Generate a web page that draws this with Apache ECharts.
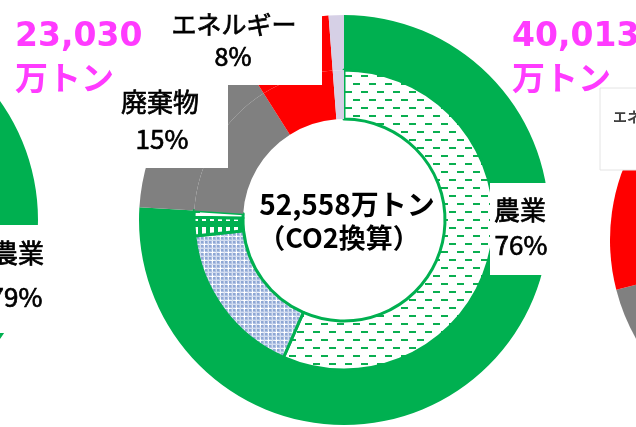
<!DOCTYPE html>
<html>
<head>
    <meta charset="utf-8">
    <title>温室効果ガス排出量</title>
    <script src="https://cdn.jsdelivr.net/npm/echarts@6/dist/echarts.min.js"></script>
    <style>
        html, body { margin: 0; padding: 0; background: #fff; }
        #main { width: 636px; height: 427px; }
    </style>
</head>
<body>
<div id="main"></div>
<script>
    // 外側リング（部門別の割合 %）
    var outerNames = ['農業', '廃棄物', 'エネルギー', 'その他'];
    var outerValues = [76, 15, 7.8, 1.2];
    // 内側リング（農業の内訳 + その他部門）
    var innerNames = ['農業A', '農業B', '農業C', '農業D', '廃棄物', 'エネルギー', 'その他'];
    var innerValues = [56.6, 16.7, 2.0, 0.7, 15, 7.8, 1.2];
    // 両隣のグラフ（見えている部分のみ）
    var leftNames = ['農業', 'その他'];
    var leftValues = [79, 21];
    var rightNames = ['農業', '廃棄物', 'エネルギー'];
    var rightValues = [40, 31, 29];
    // 合計（万トン）
    var totals = ['23,030', '52,558', '40,013'];

    var GREEN = '#00b050', GRAY = '#808080', RED = '#ff0000', LAV = '#d6d0e6', PINK = '#ff3bff';
    var JP = '"Noto Sans CJK JP", "DejaVu Sans", sans-serif';

    // 模様（canvas パターン）
    function makeTile(w, h, draw) {
        var c = document.createElement('canvas');
        c.width = w; c.height = h;
        draw(c.getContext('2d'));
        return { image: c, repeat: 'repeat' };
    }
    var dashPat = makeTile(16, 16, function (g) {
        g.fillStyle = '#fff'; g.fillRect(0, 0, 16, 16);
        g.fillStyle = '#0aae50';
        g.fillRect(1, 3, 7, 2);
        g.fillRect(9, 11, 7, 2);
    });
    var checkPat = makeTile(8, 8, function (g) {
        g.fillStyle = '#afc1e3'; g.fillRect(0, 0, 8, 8);
        g.fillStyle = '#8ea7d4'; g.fillRect(1, 1, 2, 2); g.fillRect(5, 5, 2, 2);
        g.fillRect(5, 1, 2, 2); g.fillRect(1, 5, 2, 2);
        g.fillStyle = '#eef2fa'; g.fillRect(0, 4, 8, 1); g.fillRect(4, 0, 1, 8);
        g.fillStyle = '#d3ddf0'; g.fillRect(0, 0, 8, 1); g.fillRect(0, 0, 1, 8);
        g.fillStyle = '#fff'; g.fillRect(3, 4, 3, 1); g.fillRect(4, 3, 1, 3);
    });
    var stripePat = makeTile(8, 14, function (g) {
        g.fillStyle = GREEN; g.fillRect(0, 0, 8, 14);
        g.fillStyle = '#fff'; g.fillRect(2, 3, 4, 8);
    });

    var outerColors = [GREEN, GRAY, RED, LAV];
    var innerColors = [dashPat, checkPat, stripePat, dashPat, GRAY, RED, LAV];

    var chart = echarts.init(document.getElementById('main'));

    function pieBase(center, radius) {
        return {
            type: 'pie', center: center, radius: radius, startAngle: 90, clockwise: true,
            silent: true, animation: false, label: { show: false }, labelLine: { show: false }
        };
    }

    var outer = pieBase([344, 220], [150, 205]);
    outer.data = outerValues.map(function (v, i) {
        return { name: outerNames[i], value: v, itemStyle: { color: outerColors[i] } };
    });

    var inner = pieBase([344, 220], [101, 150]);
    inner.data = innerValues.map(function (v, i) {
        var st = { color: innerColors[i] };
        if (i < 4) { st.borderColor = GREEN; st.borderWidth = 3; }
        return { name: innerNames[i], value: v, itemStyle: st };
    });

    var leftPie = pieBase([-167, 220], [100, 205]);
    leftPie.data = leftValues.map(function (v, i) {
        return { name: leftNames[i], value: v, itemStyle: { color: [GREEN, GRAY][i] } };
    });

    var rightPie = pieBase([810, 240], [0, 200]);
    rightPie.data = rightValues.map(function (v, i) {
        return { name: rightNames[i], value: v, itemStyle: { color: [GREEN, GRAY, RED][i] } };
    });

    function pct(v) { return Math.round(v) + '%'; }

    function box(x, y, w, h, extra) {
        var s = { fill: '#fff' };
        if (extra) { s.stroke = extra; s.lineWidth = 1; }
        return { type: 'rect', z: 100, shape: { x: x, y: y, width: w, height: h }, style: s };
    }
    function txt(t, x, y, size, opt) {
        opt = opt || {};
        var s = {
            text: t, x: x, y: y, fill: opt.fill || '#000',
            font: (opt.weight || 'normal') + ' ' + size + 'px ' + (opt.family || JP),
            align: opt.align || 'center', verticalAlign: 'middle'
        };
        if (!opt.weight) { s.stroke = '#000'; s.lineWidth = 0.7; }
        return { type: 'text', z: 101, style: s };
    }

    chart.setOption({
        backgroundColor: '#fff',
        series: [leftPie, rightPie, outer, inner],
        graphic: [
            // ラベルの白い枠
            box(150, 0, 172, 85),
            box(100, 85, 128, 83),
            box(490, 183, 70, 92),
            box(-10, 225, 58, 108),
            box(600, 88, 50, 82, '#e4e4e4'),
            // ラベル
            txt(outerNames[2], 234, 24, 25),
            txt(pct(outerValues[2]), 233, 56, 25),
            txt(outerNames[1], 160, 102, 26),
            txt(pct(outerValues[1]), 162, 139, 26),
            txt(outerNames[0], 520, 210, 26),
            txt(pct(outerValues[0]), 521, 245, 26),
            txt(leftNames[0], 18, 253, 26),
            txt(pct(leftValues[0]), 16, 297, 26),
            txt(rightNames[2], 613, 117, 14, { weight: 'bold', fill: '#404040', align: 'left' }),
            // 中央
            txt(totals[1] + '万トン', 347, 204, 28, { weight: 'bold' }),
            txt('（CO2換算）', 339, 238, 27, { weight: 'bold' }),
            // 合計（ピンク）
            txt(totals[0], 15, 37, 33, { weight: 'bold', fill: PINK, align: 'left', family: '"DejaVu Sans", "Noto Sans CJK JP", sans-serif' }),
            txt('万トン', 15, 77, 33, { weight: 'bold', fill: PINK, align: 'left' }),
            txt(totals[2], 512, 37, 33, { weight: 'bold', fill: PINK, align: 'left', family: '"DejaVu Sans", "Noto Sans CJK JP", sans-serif' }),
            txt('万トン', 512, 77, 33, { weight: 'bold', fill: PINK, align: 'left' })
        ]
    });
</script>
</body>
</html>
